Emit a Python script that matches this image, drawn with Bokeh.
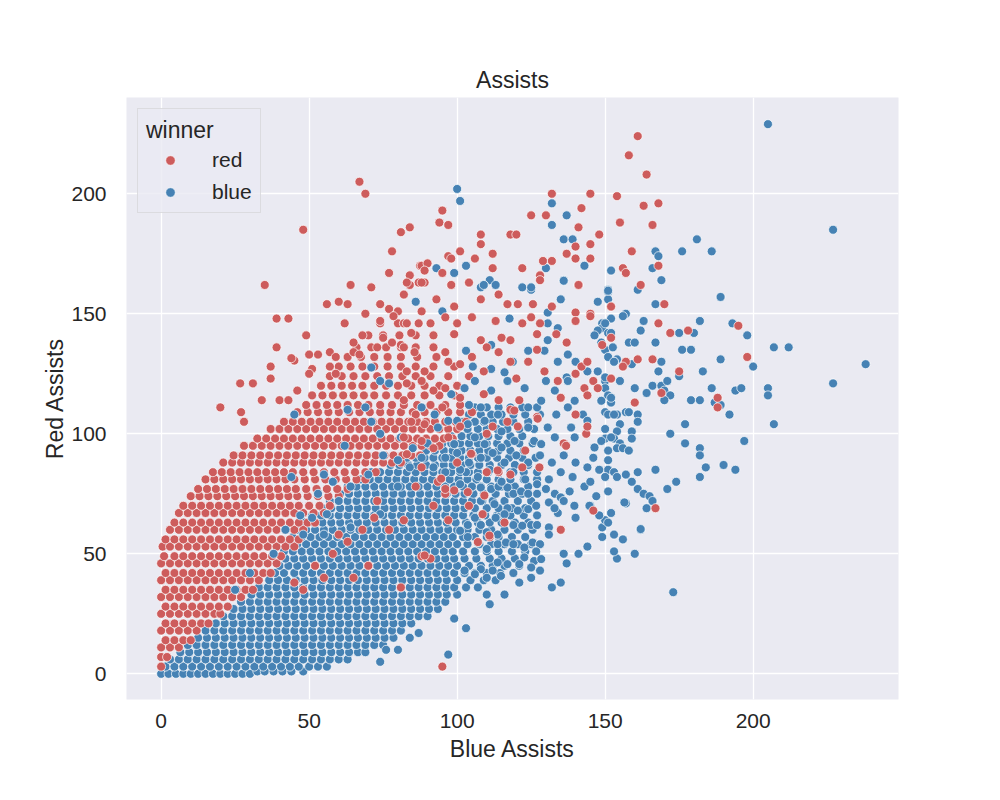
from bokeh.plotting import figure
from bokeh.models import ColumnDataSource, Range1d, FixedTicker, Legend, LegendItem
from bokeh.embed import file_html
from bokeh.resources import INLINE

# ---------------- data ----------------
title_text = "Assists"
x_label = "Blue Assists"
y_label = "Red Assists"
legend_title = "winner"
categories = ["red", "blue"]
colors = {"red": "#CD5C5C", "blue": "#4682B4"}
x_ticks = [0, 50, 100, 150, 200]
y_ticks = [0, 50, 100, 150, 200]

# dense red cloud: (red assists, [blue assists ...])
red_rows = [
    (3, [0]),
    (7, [0, 2]),
    (11, [0, 3, 6]),
    (14, [1.5, 4.5, 7.5, 10]),
    (18, [0, 3, 6, 9, 12]),
    (21, [1.5, 4.5, 7.5, 10.5, 13.5, 16]),
    (25, [0, 3, 6, 9, 12, 15, 18, 20]),
    (28, [1.5, 4.5, 7.5, 10.5, 13.5, 16.5, 19.5, 22.5]),
    (32, [0, 3, 6, 9, 12, 15, 18, 21, 24, 27]),
    (35, [1.5, 4.5, 7.5, 10.5, 13.5, 16.5, 19.5, 22.5, 25.5, 28.5, 31]),
    (39, [0, 3, 6, 9, 12, 15, 18, 21, 24, 27, 30, 33]),
    (42, [1.5, 4.5, 7.5, 10.5, 13.5, 16.5, 19.5, 22.5, 25.5, 28.5, 31.5, 34.5, 37]),
    (46, [0, 3, 6, 9, 12, 15, 18, 21, 24, 27, 30, 33, 36, 39]),
    (49, [1, 4.5, 7.5, 10.5, 13.5, 16.5, 19.5, 22.5, 25.5, 28.5, 31.5, 34.5, 37.5, 40.5]),
    (53, [0.5, 3, 6, 9, 12, 15, 18, 21, 24, 27, 30, 33, 36, 39, 42, 45]),
    (56, [1.5, 4.5, 7.5, 10.5, 13.5, 16.5, 19.5, 22.5, 25.5, 28.5, 31.5, 34.5, 37.5, 40.5, 43.5, 46.5]),
    (60, [3, 6, 9, 12, 15, 18, 21, 24, 27, 30, 33, 36, 39, 42, 45, 48]),
    (63, [4.5, 7.5, 10.5, 13.5, 16.5, 19.5, 22.5, 25.5, 28.5, 31.5, 34.5, 37.5, 40.5, 43.5, 46.5, 49.5, 52]),
    (67, [6, 9, 12, 15, 18, 21, 24, 27, 30, 33, 36, 39, 42, 45, 48, 51.5, 55]),
    (70, [7.5, 10.5, 13.5, 16.5, 19.5, 22.5, 25.5, 28.5, 31.5, 34.5, 37.5, 40.5, 43.5, 46.5, 50, 53.5, 57]),
    (74, [10, 13, 16, 19, 22, 25, 28, 31, 34, 37, 40, 43, 46, 49.5, 53, 56.5, 60]),
    (77, [12.5, 15.5, 18.5, 21.5, 24.5, 27.5, 30.5, 33.5, 36.5, 39.5, 42.5, 45.5, 49, 52.5, 56, 59.5, 63]),
    (81, [15, 18, 21, 24, 27, 30, 33, 36, 39, 42, 45, 48.5, 52, 55.5, 59, 62.5, 66, 69]),
    (84, [17.5, 20.5, 23.5, 26.5, 29.5, 32.5, 35.5, 38.5, 41.5, 44.5, 48, 51.5, 55, 58.5, 62, 65.5, 69, 72.5]),
    (88, [21, 24, 27, 30, 33, 36, 39, 42, 45, 48, 51, 54, 57, 60, 63, 66, 69, 72, 75, 78, 81]),
    (91, [24.5, 27.5, 30.5, 33.5, 36.5, 39.5, 42.5, 45.5, 48.5, 51.5, 54.5, 57.5, 60.5, 63.5, 66.5, 69.5, 72.5, 75.5, 78.5, 81.5, 84.5, 87.5]),
    (95, [28, 31, 34, 37, 40, 43, 46, 49, 52, 55, 58, 61, 64, 67, 70, 73, 76, 79, 82, 85, 88, 91, 94]),
    (98, [32.5, 35.5, 38.5, 41.5, 44.5, 47.5, 50.5, 53.5, 56.5, 59.5, 62.5, 65.5, 68.5, 71.5, 74.5, 77.5, 80.5, 83.5, 86.5, 89.5, 92.5, 95.5, 98.5]),
    (102, [37, 40, 43, 46, 49, 52, 55, 58, 61, 64, 67, 70, 73, 76, 79, 82, 85, 88, 91, 94, 97, 100]),
    (105, [41.5, 44.5, 47.5, 50.5, 53.5, 56.5, 59.5, 62.5, 65.5, 68.5, 71.5, 74.5, 77.5, 80.5, 83.5, 86.5, 89.5, 92.5, 96, 99.5, 103]),
    (109, [46, 49.5, 53, 56.5, 60, 63.5, 67, 70.5, 74, 77.5, 81, 85, 89, 93, 97, 101, 105]),
    (112, [49, 52.5, 56, 59.5, 63, 66.5, 70, 74, 78, 82, 86.5, 91, 96, 101]),
    (116, [51, 54.5, 58, 61.5, 65, 68.5, 72, 76, 80, 84.5, 89, 94, 99]),
    (120, [54, 57.5, 61, 64.5, 68, 72, 76, 80, 84.5, 89, 94, 100]),
    (124, [57, 61, 65, 69, 73, 77, 81.5, 86, 91, 97, 104]),
    (128, [60, 64, 68, 72, 76.5, 81, 86, 92, 99]),
    (132, [63, 67.5, 72, 76.5, 81, 86.5, 93]),
    (136, [66, 71, 76, 81, 86, 92]),
    (141, [70, 75, 80.5, 86, 92]),
    (146, [74, 80, 87]),
]

# dense blue cloud: (red assists, [blue assists ...])
blue_rows = [
    (0, [0, 2.5, 5, 7.5, 10, 12.5, 15, 17.5, 20, 22.5, 25, 27.5, 30]),
    (1, [32.5, 35, 38, 41, 44, 48]),
    (3, [1.5, 4.5, 7.5, 10.5, 13.5, 16.5, 19.5, 22.5, 25.5, 28.5, 31.5, 34.5, 37.5, 40.5, 43.5, 46.5, 50, 53, 56]),
    (6, [3, 6, 9, 12, 15, 18, 21, 24, 27, 30, 33, 36, 39, 42, 45, 48, 51, 54, 57, 60, 63]),
    (9, [6.5, 9.5, 12.5, 15.5, 18.5, 21.5, 24.5, 27.5, 30.5, 33.5, 36.5, 39.5, 42.5, 45.5, 48.5, 51.5, 54.5, 57.5, 60.5, 63.5, 66.5, 69]),
    (12, [9, 12, 15, 18, 21, 24, 27, 30, 33, 36, 39, 42, 45, 48, 51, 54, 57, 60, 63, 66, 69, 72, 75]),
    (15, [12.5, 15.5, 18.5, 21.5, 24.5, 27.5, 30.5, 33.5, 36.5, 39.5, 42.5, 45.5, 48.5, 51.5, 54.5, 57.5, 60.5, 63.5, 66.5, 69.5, 72.5, 75.5, 78.5]),
    (18, [15, 18, 21, 24, 27, 30, 33, 36, 39, 42, 45, 48, 51, 54, 57, 60, 63, 66, 69, 72, 75, 78, 81]),
    (21, [18.5, 21.5, 24.5, 27.5, 30.5, 33.5, 36.5, 39.5, 42.5, 45.5, 48.5, 51.5, 54.5, 57.5, 60.5, 63.5, 66.5, 69.5, 72.5, 75.5, 78.5, 81.5, 84.5]),
    (24, [21, 24, 27, 30, 33, 36, 39, 42, 45, 48, 51, 54, 57, 60, 63, 66, 69, 72, 75, 78, 81, 84, 87, 90]),
    (27, [24.5, 27.5, 30.5, 33.5, 36.5, 39.5, 42.5, 45.5, 48.5, 51.5, 54.5, 57.5, 60.5, 63.5, 66.5, 69.5, 72.5, 75.5, 78.5, 81.5, 84.5, 87.5, 90.5, 93.5]),
    (30, [27, 30, 33, 36, 39, 42, 45, 48, 51, 54, 57, 60, 63, 66, 69, 72, 75, 78, 81, 84, 87, 90, 93, 96]),
    (33, [30.5, 33.5, 36.5, 39.5, 42.5, 45.5, 48.5, 51.5, 54.5, 57.5, 60.5, 63.5, 66.5, 69.5, 72.5, 75.5, 78.5, 81.5, 84.5, 87.5, 90.5, 93.5, 96.5, 100]),
    (36, [33, 36, 39, 42, 45, 48, 51, 54, 57, 60, 63, 66, 69, 72, 75, 78, 81, 84, 87, 90, 93, 96, 99, 103, 107]),
    (39, [36.5, 39.5, 42.5, 45.5, 48.5, 51.5, 54.5, 57.5, 60.5, 63.5, 66.5, 69.5, 72.5, 75.5, 78.5, 81.5, 84.5, 87.5, 90.5, 93.5, 96.5, 100, 104.5, 109, 113]),
    (42, [38.5, 41.5, 45, 48, 51, 54, 57, 60, 63, 66, 69, 72, 75, 78, 81, 84, 87, 90, 93, 96, 99, 102.5, 106, 110, 114.5, 119]),
    (45, [40, 43, 46, 49, 52, 55, 58, 61, 64, 67, 70, 73, 76, 79, 82, 85, 88, 91, 94, 97, 100, 104, 108, 112, 116, 121]),
    (48, [42, 45, 48, 51, 54, 57, 60, 63, 66, 69, 72, 75, 78, 81, 84, 87, 90, 93, 96, 99, 102.5, 106.5, 111, 115, 119.5]),
    (51, [41.5, 44.5, 47.5, 50.5, 53.5, 56.5, 59.5, 62.5, 65.5, 68.5, 71.5, 74.5, 77.5, 80.5, 83.5, 86.5, 89.5, 92.5, 95.5, 98.5, 102, 106, 110, 114, 118.5, 123]),
    (54, [43, 46, 49, 52, 55, 58, 61, 64, 67, 70, 73, 76, 79, 82, 85, 88, 91, 94, 97, 100, 103.5, 107.5, 111.5, 116, 120.5, 125]),
    (57, [44.5, 47.5, 50.5, 53.5, 56.5, 59.5, 62.5, 65.5, 68.5, 71.5, 74.5, 77.5, 80.5, 83.5, 86.5, 89.5, 92.5, 95.5, 98.5, 102, 106, 110, 114, 118.5, 123]),
    (60, [46, 49, 52, 55, 58, 61, 64, 67, 70, 73, 76, 79, 82, 85, 88, 91, 94, 97, 100, 103.5, 107.5, 111.5, 116, 120.5, 125.5]),
    (63, [48.5, 51.5, 54.5, 57.5, 60.5, 63.5, 66.5, 69.5, 72.5, 75.5, 78.5, 81.5, 84.5, 87.5, 90.5, 93.5, 96.5, 99.5, 103, 107, 111, 115, 119.5, 124]),
    (66, [51, 54, 57, 60, 63, 66, 69, 72, 75, 78, 81, 84, 87, 90, 93, 96, 99, 102, 105.5, 109.5, 113.5, 118, 122.5, 127]),
    (69, [54.5, 57.5, 60.5, 63.5, 66.5, 69.5, 72.5, 75.5, 78.5, 81.5, 84.5, 87.5, 90.5, 93.5, 96.5, 99.5, 102.5, 106, 110, 114, 118.5, 123]),
    (72, [57, 60, 63, 66, 69, 72, 75, 78, 81, 84, 87, 90, 93, 96, 99, 102, 105, 108.5, 112, 116, 120.5, 125]),
    (75, [60.5, 63.5, 66.5, 69.5, 72.5, 75.5, 78.5, 81.5, 84.5, 87.5, 90.5, 93.5, 96.5, 99.5, 102.5, 105.5, 109, 113, 117.5, 122, 127]),
    (78, [63, 66, 69, 72, 75, 78, 81, 84, 87, 90, 93, 96, 99, 102, 105, 108, 111.5, 115, 119.5, 124]),
    (81, [67.5, 70.5, 73.5, 76.5, 79.5, 82.5, 85.5, 88.5, 91.5, 94.5, 97.5, 100.5, 103.5, 106.5, 110, 114, 118, 122.5, 127]),
    (84, [71, 74, 77, 80, 83, 86, 89, 92, 95, 98, 101, 104, 107, 110.5, 114, 118, 122.5]),
    (87, [77.5, 80.5, 83.5, 86.5, 89.5, 92.5, 95.5, 98.5, 101.5, 104.5, 107.5, 111, 115, 119.5, 124]),
    (90, [83, 86, 89, 92, 95, 98, 101, 104, 107, 110, 113.5, 117.5, 122, 126.5]),
    (93, [89.5, 92.5, 95.5, 98.5, 101.5, 104.5, 107.5, 110.5, 114, 118, 122.5]),
    (96, [95, 98, 101, 104, 107, 110, 113.5, 117, 121, 125.5]),
    (99, [98, 101.5, 104.5, 107.5, 110.5, 114, 118, 122]),
    (102, [100, 103.5, 107, 110, 113.5, 117, 121, 126]),
    (105, [102, 106, 109, 112, 115.5, 119, 124]),
    (108, [104, 108, 111.5, 115, 119, 123, 128]),
    (111, [106, 110, 114, 118, 122, 127]),
]

# scattered red-win games: (blue assists, red assists)
red_points = [
    (67, 205), (69, 200), (48, 185), (81, 184), (84, 186), (78, 176), (77, 167), (84, 166),
    (35, 162), (64, 162), (71, 161), (87, 163), (87.5, 170),
    (161, 224), (158, 216), (164, 208), (132, 200), (145, 200), (154, 199), (163, 195), (168, 196),
    (95, 193), (94, 188), (97, 187), (125, 191), (130, 191), (142, 194), (141, 186), (155, 188),
    (166, 187), (148, 183), (145, 179), (140, 178), (108, 183), (108, 179), (118, 183), (120, 183),
    (101, 176), (112, 175), (106, 173), (97, 174), (98, 173), (137, 175), (140, 173), (145, 173),
    (159, 176), (129, 172), (132, 172), (122, 169), (112, 169), (95, 167), (156, 169), (157, 167),
    (168, 170), (88, 170), (90, 171), (89, 168), (84, 162), (89, 163), (98, 162), (104, 163),
    (128, 166), (128, 164), (141, 162), (162, 162),
    (170, 154), (152, 153), (168, 146), (195, 145), (172, 142), (178, 143), (149, 137), (198, 132),
    (157, 130), (156, 128), (161, 131), (166, 131), (175, 126), (152, 123), (169, 117), (188, 115),
    (188, 111), (160, 113), (167, 69), (146, 68),
    (39, 148), (43, 148), (49, 141), (39, 136), (37, 128), (37, 123), (31, 121), (34, 114),
    (40, 114), (43, 114), (20, 111), (27, 109), (28, 105), (45, 130.5), (44, 131.5), (50, 133),
    (53, 133), (46, 118), (51, 127), (50, 125), (57, 134), (59, 132), (57, 128), (59, 125),
    (56, 154), (60, 155), (63, 154), (62, 146), (69, 150), (74, 154), (74, 147), (68, 141),
    (65, 138), (65, 134), (67, 133), (73, 136), (77, 152), (80, 151), (82, 146), (78.5, 149),
    (78, 138), (81, 137), (75, 140), (26.7, 121), (95, 3),
    (83, 163), (88, 163), (98, 162), (104, 163), (114, 158), (108, 156), (99, 153), (93, 156),
    (88, 151), (82, 158), (120.5, 154), (117, 154), (125.6, 154), (132, 153), (141, 162),
    (140, 150.5), (145, 150), (152, 153),
    (83, 146), (84.5, 142), (91, 146), (96, 148.5), (99, 141.5), (100, 146), (105, 148.5),
    (108, 139), (113, 147), (115, 140), (118, 139), (122, 146), (125, 148.5), (127, 141.5),
    (128, 146), (133.5, 141.5), (140, 147), (137, 138), (145, 149), (152, 140),
    (82, 136), (85.6, 134), (83, 126), (89, 126), (92, 136), (96, 134), (101, 129), (97, 130),
    (105, 132), (109, 126), (110, 136), (114, 134), (118, 130), (120, 123), (124, 130), (127, 135),
    (129.5, 126), (134, 122), (140, 125), (142, 128), (144, 130), (143, 119), (146, 122),
    (83, 121), (88, 122), (92, 118), (96, 119), (82, 114), (86, 108), (95, 111), (101, 115),
    (109, 116.5), (114, 114), (118, 110), (121, 114), (127, 107), (135, 115), (144, 116), (147.5, 119),
    (84.5, 105), (89, 104), (82, 98.5), (88, 97), (92, 94), (97, 98.5), (101, 103), (110, 100),
    (117, 105), (120.5, 103), (136, 96), (143.6, 100),
    (83, 91.5), (88, 86), (93.5, 80), (96, 75), (105, 91.5), (114, 84), (118, 83), (122, 86), (144, 103),
    (88, 49), (91, 48), (81, 36), (86, 78), (96, 77), (111, 57), (108.6, 66.5), (70, 45), (65, 40),
    (77, 60), (60, 58), (92, 70), (100, 88), (73, 72), (82, 64),
    (45, 38), (52, 45), (58, 50), (63, 55), (68, 60), (55, 40), (72, 65), (48, 35),
    (104, 70), (116, 63), (97, 64), (123, 93), (135, 60), (110, 84),
    (113.7, 84.7), (127.8, 86), (136.8, 95), (140, 108), (127.2, 106.3), (119.3, 109.7), (112, 103),
    (104.7, 91.7), (94.6, 81.3), (103.6, 75.7), (110.9, 57.6), (107, 54.9), (89, 49.3),
    (109.2, 74.3), (99, 76.4),
]

# scattered blue-win games: (blue assists, red assists)
blue_points = [
    (100, 202), (101, 197), (132, 196), (132, 187), (137, 191), (136, 181), (139, 181), (181, 181),
    (176, 176), (167, 176), (168, 174), (166, 169), (169, 164), (152, 168), (143, 170), (136, 164),
    (130, 169), (103, 170), (99, 167), (93, 169), (111, 164), (109, 162), (113, 162), (108, 161),
    (122, 161), (125, 160), (151, 160), (161, 160),
    (205, 229), (227, 185), (186, 176),
    (189, 157), (167, 154), (151, 159), (151, 156), (157, 150), (156, 149), (152, 148), (163, 147),
    (182, 147), (193, 146), (198, 141), (175, 142), (180, 142), (162, 143), (149, 146), (149, 144),
    (151, 142), (152, 142), (167, 138), (158, 138), (160, 138), (150, 135), (176, 135), (179, 135),
    (207, 136), (212, 136), (189, 131), (200, 128), (238, 129), (154, 131), (153, 130), (159, 129),
    (169, 130), (168, 126), (175, 124), (183, 126), (155, 122), (150, 122), (150, 119), (160, 119),
    (166, 120), (169, 120), (170, 118), (171, 122), (172, 116), (164, 117), (170, 114), (186, 119),
    (194, 118), (196, 119), (205, 119), (205, 116), (227, 121), (187, 113), (189, 112), (179, 114),
    (182, 114), (192, 108), (207, 104), (177, 104), (151, 116), (152, 113), (150, 109), (151, 108),
    (154, 108), (157, 109), (158, 109), (161, 108), (161, 105), (155, 104), (150, 102), (154, 101),
    (159, 101), (172, 100), (177, 96), (182, 94), (182, 91), (197, 97), (150, 98), (153, 98),
    (155, 96), (159, 98), (154, 94), (156, 94), (158, 93), (151, 93), (151, 89), (190, 87),
    (194, 85), (184, 86), (167, 85), (161, 84), (157, 83), (151, 85), (153, 84), (150, 82),
    (154, 82), (182, 82), (174, 80), (171, 77), (159, 80), (161, 77), (163, 75), (165, 74),
    (166, 72), (151, 76), (157, 71), (164, 69),
    (173, 34), (162, 60), (160, 50), (154, 48), (153, 51), (156, 56), (153, 58), (149, 57),
    (149, 61), (152, 67), (150, 64), (151, 63), (148, 66), (145, 70), (147, 74), (144, 53),
    (141, 50), (137, 46), (136, 50), (140, 65), (135, 38), (132, 36), (128, 43), (125, 40),
    (121, 38), (116, 33), (111, 29), (110, 33), (103, 19), (99, 23), (97, 8), (87, 17),
    (84, 15), (80, 10), (76, 10), (74, 5),
    (101, 79), (105, 78), (108, 77.6), (111.5, 77), (114, 78), (117, 77.6), (119, 75), (121.6, 76),
    (124, 75), (127, 79), (130, 77), (133, 75), (135, 73.5), (138, 76), (143, 78), (108, 72),
    (112.6, 70.7), (117, 69), (120.5, 68), (124, 68.6), (126.7, 70), (131, 71.4), (134, 67),
    (113, 65), (116, 66.5), (119, 62), (122, 61.7), (125, 62), (127, 62), (131, 61), (131, 58),
    (108, 62), (110, 59), (113.7, 58), (103.6, 62), (106, 65), (101, 59.6), (103.6, 57), (107, 54.7),
    (110, 52), (113.7, 54), (116.5, 54.7), (119, 54), (122.7, 52.6), (125.5, 54.7), (128, 54),
    (126.7, 51), (122.7, 48.5), (126, 47), (128.4, 47.8), (121, 45.7), (125, 44.3), (117, 45.7),
    (113.7, 46.4), (112, 43), (108, 43.6), (106, 41.5), (102.5, 43), (110, 40), (114.8, 40.8),
    (136, 72), (132.9, 69), (139.6, 70), (144.7, 70), (156.5, 71.4), (162, 60.3),
    (86, 155), (95, 151), (109, 162), (125, 161), (135, 156), (130.6, 150.5), (147.5, 155),
    (151, 159.6), (136, 163.75), (130.6, 146), (134, 144), (130.6, 139), (147.5, 143), (150, 146),
    (148.7, 138), (146.4, 141), (152.6, 136), (111.5, 137), (117.7, 148),
    (103, 134.6), (105.3, 128), (111.5, 127), (116, 125.6), (118.8, 130), (124, 134.6), (129.5, 134.6),
    (134, 130), (137.4, 133), (140, 130), (144, 126), (147.5, 126), (151, 132), (153, 130),
    (150, 123.5), (137, 123.5), (130, 122),
    (88, 111), (92.4, 108), (98, 116.5), (102.5, 119), (106, 122), (104, 112), (108, 111),
    (111.5, 118), (117, 122), (122.8, 119), (124, 111), (128.4, 113.75), (133, 118), (137.4, 122),
    (139.7, 113.75), (142.5, 108), (148.7, 113.75), (152, 115), (153, 108), (137.4, 111), (133.5, 108),
    (93.5, 102.6), (97, 105.4), (100, 105.4), (103.6, 104), (106, 98.5), (109.3, 105.4), (113.8, 108),
    (115, 101), (119.4, 97), (124, 102.6), (126, 97), (130.6, 102.6), (133, 98.5), (138.5, 102.6),
    (139.7, 98.5), (144, 105.4), (148.7, 97), (152, 98.5), (146.4, 94.3), (99, 95.7), (109.3, 95.7),
    (115, 94.3), (128.4, 95.7),
    (100, 92), (104, 88), (108, 90), (112, 92), (116, 88), (120, 91), (124, 88), (128, 91),
    (132, 88), (136, 91), (140, 88), (103, 84), (107, 82), (111, 85), (115, 80), (119, 84),
    (123, 81), (127, 84), (131, 81), (135, 84), (139, 82), (144, 86), (146, 90), (84, 86),
    (88, 90), (92, 86), (96, 90), (85, 94), (90, 96), (96, 84), (101, 85), (145, 80), (148, 85),
    (71, 127.6), (74, 122), (77, 121), (63, 110), (69, 111), (45, 108), (62, 95), (71, 105),
    (74, 100), (81, 98.5), (75, 91), (80, 89), (70, 83), (44, 82), (55, 83), (64, 78), (60, 72),
    (56, 66.5), (51, 65), (48, 58), (55, 58), (64, 61), (74, 66.5), (80, 78),
    (30, 42), (38, 50), (42, 60), (25, 35), (47, 66), (53, 75), (58, 80),
]


def rows_to_xy(rows):
    xs, ys = [], []
    for yv, xlist in rows:
        for xv in xlist:
            xs.append(xv)
            ys.append(yv)
    return xs, ys


def pts_to_xy(pts):
    return [q[0] for q in pts], [q[1] for q in pts]


FONT = "Liberation Sans"
TXT = "#262626"

p = figure(width=1000, height=800, output_backend="svg", toolbar_location=None,
           x_range=Range1d(-11.7, 249.1), y_range=Range1d(-10.7, 240.1),
           min_border_left=126, min_border_right=102, min_border_top=97, min_border_bottom=101,
           title=title_text)

p.background_fill_color = "#EAEAF2"
p.border_fill_color = "white"
p.outline_line_color = None

p.title.align = "center"
p.title.text_font = FONT
p.title.text_font_size = "23px"
p.title.text_font_style = "normal"
p.title.text_color = TXT
p.title.standoff = 10

for ax in (p.xaxis[0], p.yaxis[0]):
    ax.axis_line_color = None
    ax.major_tick_line_color = None
    ax.minor_tick_line_color = None
    ax.major_label_text_font = FONT
    ax.major_label_text_font_size = "21px"
    ax.major_label_text_color = TXT
    ax.axis_label_text_font = FONT
    ax.axis_label_text_font_size = "23px"
    ax.axis_label_text_font_style = "normal"
    ax.axis_label_text_color = TXT

p.xaxis[0].ticker = FixedTicker(ticks=x_ticks)
p.yaxis[0].ticker = FixedTicker(ticks=y_ticks)
p.xaxis[0].axis_label = x_label
p.yaxis[0].axis_label = y_label
p.xaxis[0].major_label_standoff = 8
p.xaxis[0].axis_label_standoff = 5
p.yaxis[0].major_label_standoff = 14
p.yaxis[0].axis_label_standoff = 0

p.grid.grid_line_color = "white"
p.grid.grid_line_width = 1.3

marker_kw = dict(size=9, line_color="white", line_width=0.7, fill_alpha=1.0)

bx, by = rows_to_xy(blue_rows)
rx, ry = rows_to_xy(red_rows)
bpx, bpy = pts_to_xy(blue_points)
rpx, rpy = pts_to_xy(red_points)

r_blue_core = p.scatter(x="x", y="y", source=ColumnDataSource(dict(x=bx, y=by)),
                        fill_color=colors["blue"], **marker_kw)
r_red_core = p.scatter(x="x", y="y", source=ColumnDataSource(dict(x=rx, y=ry)),
                       fill_color=colors["red"], **marker_kw)
r_blue_pts = p.scatter(x="x", y="y", source=ColumnDataSource(dict(x=bpx, y=bpy)),
                       fill_color=colors["blue"], **marker_kw)
r_red_pts = p.scatter(x="x", y="y", source=ColumnDataSource(dict(x=rpx, y=rpy)),
                      fill_color=colors["red"], **marker_kw)

legend = Legend(items=[LegendItem(label=categories[0], renderers=[r_red_core]),
                       LegendItem(label=categories[1], renderers=[r_blue_core])],
                title=legend_title, location="top_left")
legend.margin = 11
legend.padding = 8
legend.title_text_font = FONT
legend.title_text_font_size = "23px"
legend.title_text_font_style = "normal"
legend.title_text_color = TXT
legend.title_standoff = 4
legend.label_text_font = FONT
legend.label_text_font_size = "21px"
legend.label_text_color = TXT
legend.glyph_width = 48
legend.glyph_height = 24
legend.label_height = 24
legend.label_standoff = 18
legend.spacing = 8
legend.background_fill_color = "#EAEAF2"
legend.background_fill_alpha = 0.8
legend.border_line_color = "#CCCCCC"
legend.border_line_width = 1
p.add_layout(legend)

open("out.html", "w").write(file_html(p, INLINE))
